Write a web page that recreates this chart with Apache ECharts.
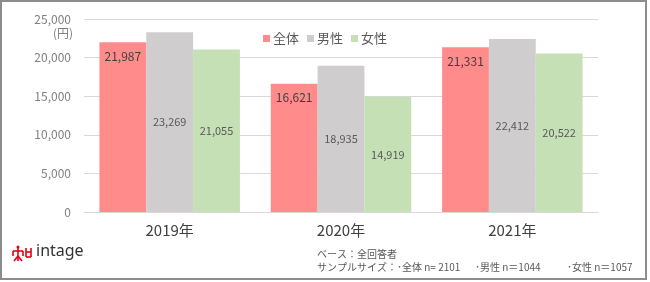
<!DOCTYPE html>
<html><head><meta charset="utf-8">
<script src="https://cdn.jsdelivr.net/npm/echarts@6/dist/echarts.min.js"></script>
<style>html,body{margin:0;padding:0;background:#fff}#c{width:650px;height:282px}</style>
</head><body><div id="c"></div>
<script>
const categories = ['2019年', '2020年', '2021年'];
const seriesNames = ['全体', '男性', '女性'];
const totalValues = [21987, 16621, 21331];
const maleValues = [23269, 18935, 22412];
const femaleValues = [21055, 14919, 20522];
const yTicks = [0, 5000, 10000, 15000, 20000, 25000];

const FONT = '"Noto Sans CJK JP", "Noto Sans", sans-serif';
const chart = echarts.init(document.getElementById('c'), null, {renderer: 'canvas'});
const fmt = v => v.toLocaleString('en-US');
const colors = ['#FF8B8B', '#CFCDCE', '#C5E0B4'];

chart.setOption({
  animation: false,
  textStyle: {fontFamily: FONT},
  color: colors,
  grid: {left: 84, right: 52, top: 19, bottom: 70},
  legend: {
    data: seriesNames, top: 27, left: 'center', itemWidth: 7, itemHeight: 7, itemGap: 8,
    icon: 'rect',
    textStyle: {fontSize: 13, color: '#595959', fontFamily: FONT, padding: [0, 0, 0, -2]}
  },
  xAxis: {
    type: 'category', data: categories,
    axisLine: {lineStyle: {color: '#d9d9d9'}},
    axisTick: {show: false},
    axisLabel: {fontSize: 15, color: '#404040', margin: 11, fontFamily: FONT}
  },
  yAxis: {
    type: 'value', min: yTicks[0], max: yTicks[yTicks.length - 1], interval: 5000,
    axisLine: {show: false}, axisTick: {show: false},
    splitLine: {lineStyle: {color: '#d9d9d9'}},
    axisLabel: {fontSize: 12, color: '#808080', margin: 13, formatter: v => fmt(v), fontFamily: FONT}
  },
  series: [
    {name: seriesNames[0], type: 'bar', data: totalValues, barGap: '0%', barCategoryGap: '18%',
     label: {show: true, position: 'insideTop', distance: 8, fontSize: 12, color: '#404040', formatter: p => fmt(p.value), fontFamily: FONT}},
    {name: seriesNames[1], type: 'bar', data: maleValues, barGap: '0%', barCategoryGap: '18%',
     label: {show: true, position: 'inside', fontSize: 11, color: '#595959', formatter: p => fmt(p.value), fontFamily: FONT}},
    {name: seriesNames[2], type: 'bar', data: femaleValues, barGap: '0%', barCategoryGap: '18%',
     label: {show: true, position: 'inside', fontSize: 11, color: '#595959', formatter: p => fmt(p.value), fontFamily: FONT}}
  ],
  graphic: [
    {type: 'rect', shape: {x: 1, y: 1, width: 645, height: 278}, style: {fill: 'none', stroke: '#8c8c8c', lineWidth: 2}, silent: true},
    {type: 'text', left: 53, top: 27, style: {text: '(円)', fontSize: 12, fill: '#808080', fontFamily: FONT}},
    {type: 'group', children: [
      {type: 'circle', shape: {cx: 18, cy: 247, r: 1.5}, style: {fill: '#e60012'}},
      {type: 'line', shape: {x1: 18, y1: 247, x2: 18, y2: 261}, style: {stroke: '#e60012', lineWidth: 1.6}},
      {type: 'line', shape: {x1: 13, y1: 251, x2: 23, y2: 251}, style: {stroke: '#e60012', lineWidth: 1.6}},
      {type: 'line', shape: {x1: 13, y1: 251, x2: 13, y2: 256}, style: {stroke: '#e60012', lineWidth: 1.6}},
      {type: 'line', shape: {x1: 23, y1: 251, x2: 23, y2: 256}, style: {stroke: '#e60012', lineWidth: 1.6}},
      {type: 'line', shape: {x1: 18, y1: 256, x2: 14, y2: 261}, style: {stroke: '#e60012', lineWidth: 1.6}},
      {type: 'line', shape: {x1: 18, y1: 256, x2: 22, y2: 261}, style: {stroke: '#e60012', lineWidth: 1.6}},
      {type: 'line', shape: {x1: 26, y1: 248, x2: 26, y2: 257}, style: {stroke: '#e60012', lineWidth: 1.6}},
      {type: 'line', shape: {x1: 31, y1: 248, x2: 31, y2: 257}, style: {stroke: '#e60012', lineWidth: 1.6}},
      {type: 'line', shape: {x1: 26, y1: 252, x2: 31, y2: 252}, style: {stroke: '#e60012', lineWidth: 1.6}},
      {type: 'line', shape: {x1: 26, y1: 257, x2: 31, y2: 257}, style: {stroke: '#e60012', lineWidth: 1.6}}
    ]},
    {type: 'text', left: 36, top: 243, style: {text: 'intage', fontSize: 16, fill: '#333', fontFamily: '"Noto Sans", sans-serif'}},
    {type: 'text', left: 317, top: 249, style: {text: 'ベース：全回答者', fontSize: 10, fill: '#595959', fontFamily: FONT}},
    {type: 'text', left: 317, top: 262, style: {text: 'サンプルサイズ：･全体 n= 2101', fontSize: 10, fill: '#595959', fontFamily: FONT}},
    {type: 'text', left: 475, top: 262, style: {text: '･男性 n＝1044', fontSize: 10, fill: '#595959', fontFamily: FONT}},
    {type: 'text', left: 567, top: 262, style: {text: '･女性 n＝1057', fontSize: 10, fill: '#595959', fontFamily: FONT}}
  ]
});
</script></body></html>
